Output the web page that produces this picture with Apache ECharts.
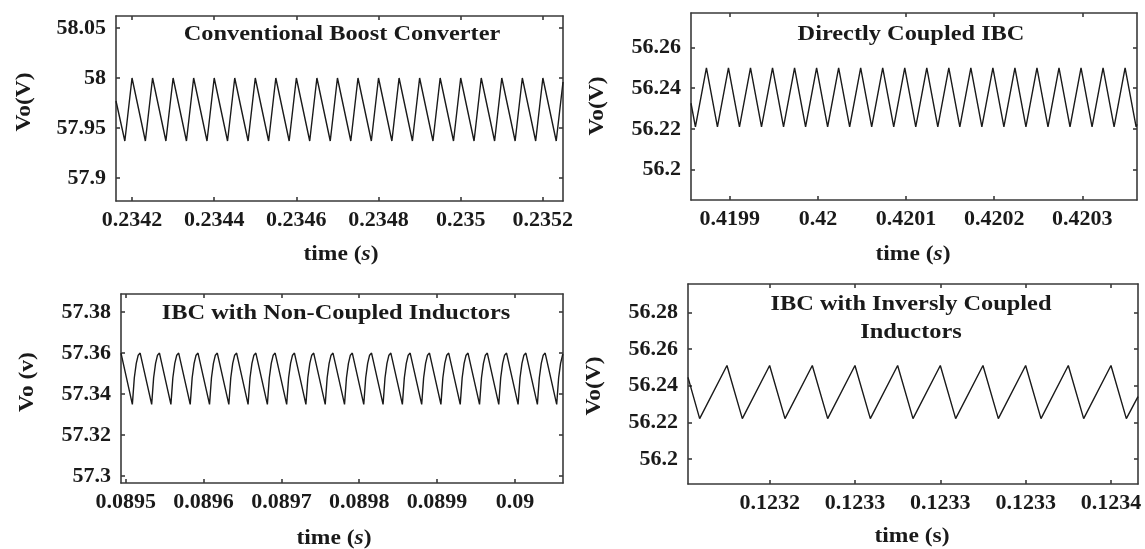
<!DOCTYPE html>
<html>
<head>
<meta charset="utf-8">
<script src="https://cdn.jsdelivr.net/npm/echarts@6/dist/echarts.min.js"></script>
<style>
html,body{margin:0;padding:0;background:#fff;}
#chart{width:1145px;height:549px;}
</style>
</head>
<body>
<div id="chart"></div>
<script>
// ---------- DATA ----------
const titles = ['Conventional Boost Converter', 'Directly Coupled IBC', 'IBC with Non-Coupled Inductors', 'IBC with Inversly Coupled\nInductors'];
const yNames = ['Vo(V)', 'Vo(V)', 'Vo (v)', 'Vo(V)'];

// Panel 1: Conventional Boost Converter
const boostTicksX = [0.2342, 0.2344, 0.2346, 0.2348, 0.235, 0.2352];
const boostLabelsX = ['0.2342', '0.2344', '0.2346', '0.2348', '0.235', '0.2352'];
const boostTicksY = [57.9, 57.95, 58, 58.05];
const boostLabelsY = ['57.9', '57.95', '58', '58.05'];
const boostVo = [
  [0.234161,57.977],[0.2341825,57.937],[0.2342,58],[0.2342325,57.937],[0.23425,58],[0.2342825,57.937],
  [0.2343,58],[0.2343325,57.937],[0.23435,58],[0.2343825,57.937],[0.2344,58],[0.2344325,57.937],
  [0.23445,58],[0.2344825,57.937],[0.2345,58],[0.2345325,57.937],[0.23455,58],[0.2345825,57.937],
  [0.2346,58],[0.2346325,57.937],[0.23465,58],[0.2346825,57.937],[0.2347,58],[0.2347325,57.937],
  [0.23475,58],[0.2347825,57.937],[0.2348,58],[0.2348325,57.937],[0.23485,58],[0.2348825,57.937],
  [0.2349,58],[0.2349325,57.937],[0.23495,58],[0.2349825,57.937],[0.235,58],[0.2350325,57.937],
  [0.23505,58],[0.2350825,57.937],[0.2351,58],[0.2351325,57.937],[0.23515,58],[0.2351825,57.937],
  [0.2352,58],[0.2352325,57.937],[0.235249,57.996]
];

// Panel 2: Directly Coupled IBC
const directTicksX = [0.4199, 0.42, 0.4201, 0.4202, 0.4203];
const directLabelsX = ['0.4199', '0.42', '0.4201', '0.4202', '0.4203'];
const directTicksY = [56.2, 56.22, 56.24, 56.26];
const directLabelsY = ['56.2', '56.22', '56.24', '56.26'];
const directVo = [
  [0.419856,56.2326],[0.419861,56.221],[0.4198735,56.25],[0.419886,56.221],[0.4198985,56.25],
  [0.419911,56.221],[0.4199235,56.25],[0.419936,56.221],[0.4199485,56.25],[0.419961,56.221],
  [0.4199735,56.25],[0.419986,56.221],[0.4199985,56.25],[0.420011,56.221],[0.4200235,56.25],
  [0.420036,56.221],[0.4200485,56.25],[0.420061,56.221],[0.4200735,56.25],[0.420086,56.221],
  [0.4200985,56.25],[0.420111,56.221],[0.4201235,56.25],[0.420136,56.221],[0.4201485,56.25],
  [0.420161,56.221],[0.4201735,56.25],[0.420186,56.221],[0.4201985,56.25],[0.420211,56.221],
  [0.4202235,56.25],[0.420236,56.221],[0.4202485,56.25],[0.420261,56.221],[0.4202735,56.25],
  [0.420286,56.221],[0.4202985,56.25],[0.420311,56.221],[0.4203235,56.25],[0.420336,56.221],
  [0.4203485,56.25],[0.420361,56.221],[0.420362,56.2222]
];

// Panel 3: IBC with Non-Coupled Inductors
const nonCoupledTicksX = [0.0895, 0.0896, 0.0897, 0.0898, 0.0899, 0.09];
const nonCoupledLabelsX = ['0.0895', '0.0896', '0.0897', '0.0898', '0.0899', '0.09'];
const nonCoupledTicksY = [57.3, 57.32, 57.34, 57.36, 57.38];
const nonCoupledLabelsY = ['57.3', '57.32', '57.34', '57.36', '57.38'];
const nonCoupledVo = [
  [0.089494,57.36],
  [0.0895086,57.335],[0.0895111,57.348],[0.0895136,57.355],[0.0895161,57.359],[0.0895186,57.36],
  [0.0895334,57.335],[0.0895359,57.348],[0.0895384,57.355],[0.0895409,57.359],[0.0895434,57.36],
  [0.0895581,57.335],[0.0895606,57.348],[0.0895631,57.355],[0.0895656,57.359],[0.0895681,57.36],
  [0.0895829,57.335],[0.0895854,57.348],[0.0895879,57.355],[0.0895904,57.359],[0.0895929,57.36],
  [0.0896077,57.335],[0.0896102,57.348],[0.0896127,57.355],[0.0896152,57.359],[0.0896177,57.36],
  [0.0896325,57.335],[0.089635,57.348],[0.0896375,57.355],[0.08964,57.359],[0.0896425,57.36],
  [0.0896572,57.335],[0.0896597,57.348],[0.0896622,57.355],[0.0896647,57.359],[0.0896672,57.36],
  [0.089682,57.335],[0.0896845,57.348],[0.089687,57.355],[0.0896895,57.359],[0.089692,57.36],
  [0.0897068,57.335],[0.0897093,57.348],[0.0897118,57.355],[0.0897143,57.359],[0.0897168,57.36],
  [0.0897315,57.335],[0.089734,57.348],[0.0897365,57.355],[0.089739,57.359],[0.0897415,57.36],
  [0.0897563,57.335],[0.0897588,57.348],[0.0897613,57.355],[0.0897638,57.359],[0.0897663,57.36],
  [0.0897811,57.335],[0.0897836,57.348],[0.0897861,57.355],[0.0897886,57.359],[0.0897911,57.36],
  [0.0898058,57.335],[0.0898083,57.348],[0.0898108,57.355],[0.0898133,57.359],[0.0898158,57.36],
  [0.0898306,57.335],[0.0898331,57.348],[0.0898356,57.355],[0.0898381,57.359],[0.0898406,57.36],
  [0.0898554,57.335],[0.0898579,57.348],[0.0898604,57.355],[0.0898629,57.359],[0.0898654,57.36],
  [0.0898802,57.335],[0.0898827,57.348],[0.0898852,57.355],[0.0898877,57.359],[0.0898902,57.36],
  [0.0899049,57.335],[0.0899074,57.348],[0.0899099,57.355],[0.0899124,57.359],[0.0899149,57.36],
  [0.0899297,57.335],[0.0899322,57.348],[0.0899347,57.355],[0.0899372,57.359],[0.0899397,57.36],
  [0.0899545,57.335],[0.089957,57.348],[0.0899595,57.355],[0.089962,57.359],[0.0899645,57.36],
  [0.0899792,57.335],[0.0899817,57.348],[0.0899842,57.355],[0.0899867,57.359],[0.0899892,57.36],
  [0.090004,57.335],[0.0900065,57.348],[0.090009,57.355],[0.0900115,57.359],[0.090014,57.36],
  [0.0900288,57.335],[0.0900313,57.348],[0.0900338,57.355],[0.0900363,57.359],[0.0900388,57.36],
  [0.0900536,57.335],[0.0900561,57.348],[0.0900586,57.355],[0.0900611,57.359],[0.0900617,57.3595]
];

// Panel 4: IBC with Inversly Coupled Inductors
const inverseTicksX = [0.12324, 0.12327, 0.1233, 0.12333, 0.12336];
const inverseLabelsX = ['0.1232', '0.1233', '0.1233', '0.1233', '0.1234'];
const inverseTicksY = [56.2, 56.22, 56.24, 56.26, 56.28];
const inverseLabelsY = ['56.2', '56.22', '56.24', '56.26', '56.28'];
const inverseVo = [
  [0.1232113,56.2445],[0.1232154,56.222],[0.123225,56.251],[0.1232304,56.222],[0.12324,56.251],
  [0.1232454,56.222],[0.123255,56.251],[0.1232604,56.222],[0.12327,56.251],[0.1232754,56.222],
  [0.123285,56.251],[0.1232904,56.222],[0.1233,56.251],[0.1233054,56.222],[0.123315,56.251],
  [0.1233204,56.222],[0.12333,56.251],[0.1233354,56.222],[0.123345,56.251],[0.1233504,56.222],
  [0.12336,56.251],[0.1233654,56.222],[0.1233695,56.234]
];

// ---------- LAYOUT ----------
const FONT = 'Liberation Serif';
const INK = '#1a1a1a';
const panels = [
  {grid:{left:116, top:16, width:447, height:185}, xr:[0.234161,0.235249], yr:[57.877,58.062],
   xt:boostTicksX, xl:boostLabelsX, yt:boostTicksY, yl:boostLabelsY, data:boostVo},
  {grid:{left:691, top:13, width:446, height:187}, xr:[0.419856,0.420362], yr:[56.185,56.277],
   xt:directTicksX, xl:directLabelsX, yt:directTicksY, yl:directLabelsY, data:directVo},
  {grid:{left:121, top:294, width:442, height:189}, xr:[0.089494,0.0900617], yr:[57.2967,57.3888],
   xt:nonCoupledTicksX, xl:nonCoupledLabelsX, yt:nonCoupledTicksY, yl:nonCoupledLabelsY, data:nonCoupledVo},
  {grid:{left:688, top:284, width:450, height:200}, xr:[0.1232113,0.1233695], yr:[56.1864,56.2954],
   xt:inverseTicksX, xl:inverseLabelsX, yt:inverseTicksY, yl:inverseLabelsY, data:inverseVo}
];

function labelFor(ticks, labels, tol) {
  return function (v) {
    for (let i = 0; i < ticks.length; i++) if (Math.abs(ticks[i] - v) < tol) return labels[i];
    return '';
  };
}

const axisLineStyle = {color:'#3a3a3a', width:1.6};
const labelStyle = {color:INK, fontFamily:FONT, fontWeight:'bold', fontSize:22};

const grids = [], xAxes = [], yAxes = [], series = [];
panels.forEach((p, i) => {
  grids.push(Object.assign({containLabel:false}, p.grid));
  ['bottom', 'top'].forEach((pos, k) => {
    xAxes.push({
      type:'value', gridIndex:i, position:pos, min:p.xr[0], max:p.xr[1],
      axisLine:{show:true, onZero:false, lineStyle:axisLineStyle},
      axisTick:{show:true, inside:true, length:4, customValues:p.xt, lineStyle:axisLineStyle},
      axisLabel:{show:k === 0, customValues:p.xt, margin:8, formatter:labelFor(p.xt, p.xl, 1e-8), ...labelStyle},
      splitLine:{show:false}
    });
  });
  ['left', 'right'].forEach((pos, k) => {
    yAxes.push({
      type:'value', gridIndex:i, position:pos, min:p.yr[0], max:p.yr[1],
      axisLine:{show:true, onZero:false, lineStyle:axisLineStyle},
      axisTick:{show:true, inside:true, length:4, customValues:p.yt, lineStyle:axisLineStyle},
      axisLabel:{show:k === 0, customValues:p.yt, margin:10, formatter:labelFor(p.yt, p.yl, 1e-6), ...labelStyle},
      splitLine:{show:false}
    });
  });
  series.push({
    type:'line', xAxisIndex:2 * i, yAxisIndex:2 * i, data:p.data,
    showSymbol:false, symbol:'none', clip:true,
    lineStyle:{color:INK, width:1.4}, animation:false
  });
});

// ---------- TEXT ----------
function txt(text, x, y, opts) {
  opts = opts || {};
  return {
    type:'text', x:x, y:y, rotation:opts.rot || 0, scaleX:opts.sx || 1.12, silent:true, z:10,
    style:{
      text:text, x:0, y:0, textAlign:'center', textVerticalAlign:'middle',
      fill:INK, fontFamily:FONT, fontWeight:'bold', fontSize:opts.fs || 21,
      lineHeight:opts.lh || 28,
      rich:{
        n:{fill:INK, fontFamily:FONT, fontWeight:'bold', fontSize:opts.fs || 21},
        i:{fill:INK, fontFamily:FONT, fontWeight:'bold', fontStyle:'italic', fontSize:opts.fs || 21}
      }
    }
  };
}
const R = Math.PI / 2;
const graphics = [
  txt(titles[0], 342, 35, {sx:1.16}),
  txt(titles[1], 911, 35, {sx:1.16}),
  txt(titles[2], 336, 314, {sx:1.16}),
  txt(titles[3], 911, 319, {sx:1.16}),
  txt('{n|time (}{i|s}{n|)}', 341, 255),
  txt('{n|time (}{i|s}{n|)}', 913, 255),
  txt('{n|time (}{i|s}{n|)}', 334, 539),
  txt('{n|time (s)}', 912, 537),
  txt(yNames[0], 25, 102, {rot:R}),
  txt(yNames[1], 598, 106, {rot:R}),
  txt(yNames[2], 28, 382, {rot:R}),
  txt(yNames[3], 595, 386, {rot:R})
];

const chart = echarts.init(document.getElementById('chart'), null, {renderer:'canvas'});
chart.setOption({
  backgroundColor:'#ffffff',
  animation:false,
  grid:grids,
  xAxis:xAxes,
  yAxis:yAxes,
  series:series,
  graphic:graphics
});
</script>
</body>
</html>
